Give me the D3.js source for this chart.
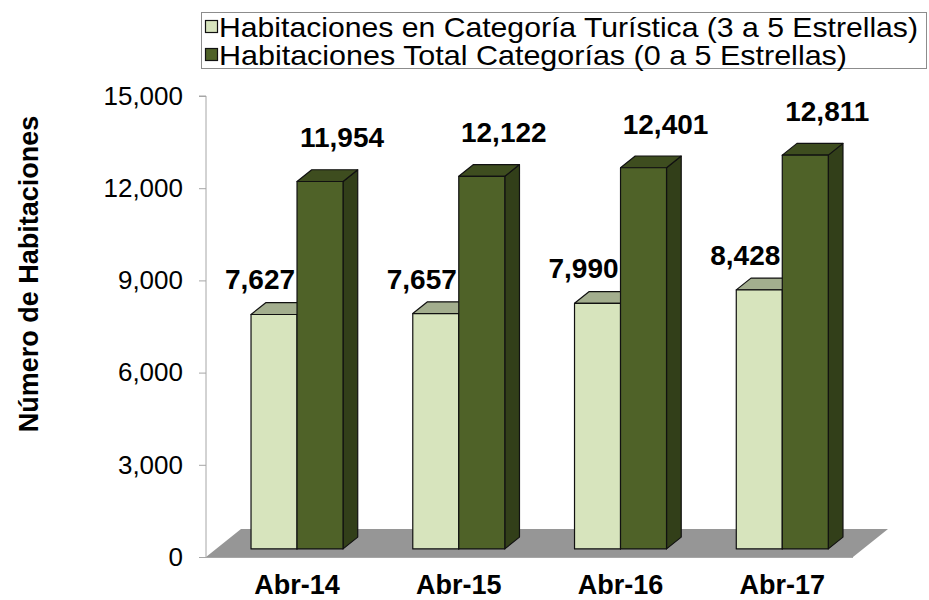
<!DOCTYPE html>
<html>
<head>
<meta charset="utf-8">
<script src="https://cdn.jsdelivr.net/npm/d3@7"></script>
<style>
  body { margin: 0; background: #fff; }
  text { font-family: "Liberation Sans", Arial, sans-serif; }
</style>
</head>
<body>
<svg id="chart" width="929" height="600"></svg>
<script>
// datos
const categories = ['Abr-14', 'Abr-15', 'Abr-16', 'Abr-17'];
const turistica = [7627, 7657, 7990, 8428];
const total = [11954, 12122, 12401, 12811];
const seriesNames = [
  'Habitaciones en Categoría Turística (3 a 5 Estrellas)',
  'Habitaciones Total Categorías (0 a 5 Estrellas)'
];
const yTicks = [0, 3000, 6000, 9000, 12000, 15000];

const svg = d3.select('#chart');
const fmt = d3.format(',');

// colores: frente, tapa, lado
const palette = [
  { front: '#d7e4bd', top: '#a3ae8e', side: '#8e9a79' },
  { front: '#4f6228', top: '#3e4d1f', side: '#323f19' }
];

const y = d3.scaleLinear().domain([0, 15000]).range([557, 96]);
const x = d3.scaleBand().domain(categories).range([206, 853]).padding(0);
const barW = 46;

// profundidad del piso y de las barras (efecto 3D)
const floorDepth = [35, -28];
const t0 = 0.29, t1 = 0.71;
const off0 = [floorDepth[0] * t0, floorDepth[1] * t0];
const dep = [floorDepth[0] * (t1 - t0), floorDepth[1] * (t1 - t0)];

// piso gris
const [fx0, fx1] = x.range();
svg.append('path')
  .attr('d', `M${fx0},${y(0)} L${fx0 + floorDepth[0]},${y(0) + floorDepth[1]} L${fx1 + floorDepth[0]},${y(0) + floorDepth[1]} L${fx1},${y(0)} Z`)
  .attr('fill', '#969696');

// ejes
const axisG = svg.append('g').attr('transform', `translate(${fx0},0)`);
axisG.call(d3.axisLeft(y).tickValues(yTicks).tickFormat(fmt).tickSize(7).tickPadding(16));
axisG.select('.domain').attr('stroke', '#a6a6a6').attr('d', `M-7,${y(15000)}H0V${y(0)}`);
axisG.selectAll('.tick line').attr('stroke', '#a6a6a6');
axisG.selectAll('.tick text')
  .attr('font-size', 26)
  .attr('fill', '#000')
  .attr('font-family', '"Liberation Sans", Arial, sans-serif');

svg.append('line')
  .attr('x1', fx0).attr('x2', fx1)
  .attr('y1', y(0) + 0.5).attr('y2', y(0) + 0.5)
  .attr('stroke', '#a6a6a6');

// barras 3D
const series = [turistica, total];
categories.forEach((c, i) => {
  const cx = x(c) + x.bandwidth() / 2 + off0[0];
  series.forEach((vals, s) => {
    const left = s === 0 ? cx - barW : cx;
    const right = left + barW;
    const bottom = y(0) + off0[1];
    const top = y(vals[i]) + off0[1];
    const col = palette[s];
    const g = svg.append('g')
      .attr('stroke', '#111')
      .attr('stroke-width', 1.2)
      .attr('stroke-linejoin', 'round');
    // lado
    g.append('path')
      .attr('d', `M${right},${bottom} L${right + dep[0]},${bottom + dep[1]} L${right + dep[0]},${top + dep[1]} L${right},${top} Z`)
      .attr('fill', col.side);
    // tapa
    g.append('path')
      .attr('d', `M${left},${top} L${left + dep[0]},${top + dep[1]} L${right + dep[0]},${top + dep[1]} L${right},${top} Z`)
      .attr('fill', col.top);
    // frente
    g.append('rect')
      .attr('x', left).attr('y', top)
      .attr('width', barW).attr('height', bottom - top)
      .attr('fill', col.front);
  });
});

// etiquetas de valores
categories.forEach((c, i) => {
  const cx = x(c) + x.bandwidth() / 2 + off0[0];
  svg.append('text')
    .attr('x', cx - barW / 2 - 14)
    .attr('y', y(turistica[i]) + off0[1] - 25)
    .attr('text-anchor', 'middle')
    .attr('font-size', 28).attr('font-weight', 'bold')
    .text(fmt(turistica[i]));
  svg.append('text')
    .attr('x', cx + barW / 2 + 22)
    .attr('y', y(total[i]) + off0[1] - 34)
    .attr('text-anchor', 'middle')
    .attr('font-size', 28).attr('font-weight', 'bold')
    .text(fmt(total[i]));
});

// etiquetas de categorias
svg.selectAll('.cat')
  .data(categories)
  .enter()
  .append('text')
  .attr('class', 'cat')
  .attr('x', d => x(d) + x.bandwidth() / 2 + off0[0])
  .attr('y', 594)
  .attr('text-anchor', 'middle')
  .attr('font-size', 27).attr('font-weight', 'bold')
  .text(d => d);

// titulo del eje Y
svg.append('text')
  .attr('transform', 'translate(38,274) rotate(-90)')
  .attr('text-anchor', 'middle')
  .attr('font-size', 27).attr('font-weight', 'bold')
  .text('Número de Habitaciones');

// leyenda
const legendLen = [699, 628];
const legend = svg.append('g');
legend.append('rect')
  .attr('x', 201.5).attr('y', 12.5)
  .attr('width', 725).attr('height', 56)
  .attr('fill', '#fff').attr('stroke', '#8c8c8c');
seriesNames.forEach((name, s) => {
  const ly = 27 + s * 28;
  legend.append('rect')
    .attr('x', 205.5).attr('y', ly - 6.5)
    .attr('width', 12).attr('height', 12)
    .attr('fill', palette[s].front).attr('stroke', '#111').attr('stroke-width', 1.2);
  legend.append('text')
    .attr('x', 219).attr('y', ly + 10)
    .attr('font-size', 28)
    .attr('textLength', legendLen[s])
    .attr('lengthAdjust', 'spacingAndGlyphs')
    .text(name);
});
</script>
</body>
</html>
